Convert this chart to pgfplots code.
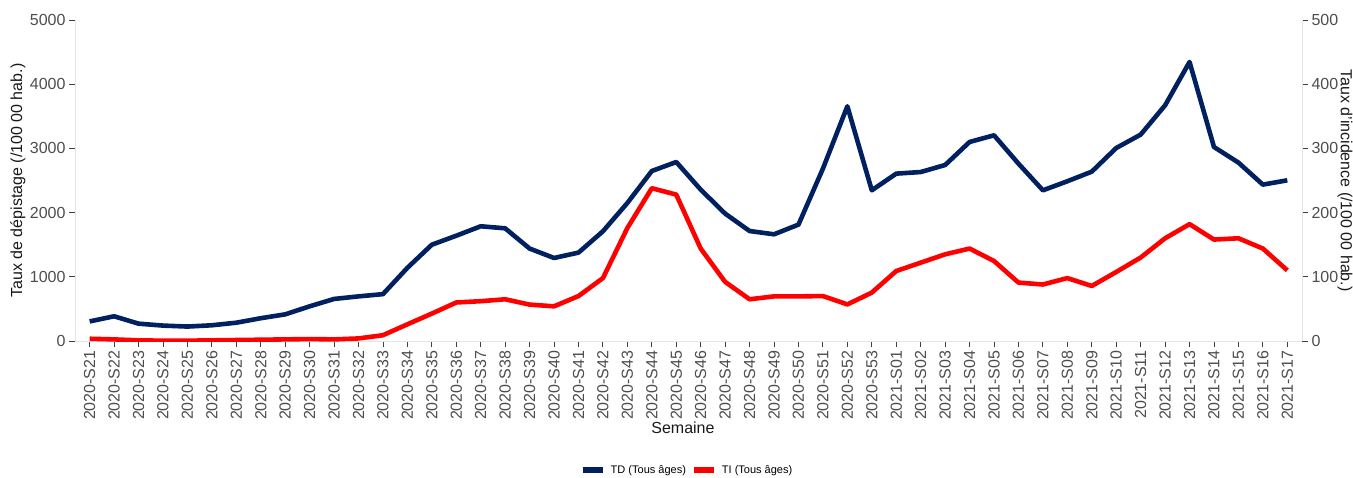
\documentclass[border=0pt]{standalone}
\usepackage{fontspec}
\setmainfont{Liberation Sans}
\usepackage{pgfplots}
\usepackage{pgfplotstable}
\pgfplotsset{compat=1.18}
\definecolor{tdblue}{HTML}{002060}
\definecolor{tired}{HTML}{FF0000}
\definecolor{ticktext}{HTML}{4D4D4D}
\pgfplotstableread{
x td ti
0 305 3.5
1 385 2.5
2 270 1
3 240 0.5
4 225 0.5
5 245 1
6 285 1.5
7 355 2
8 415 2.5
9 540 3
10 655 2.5
11 695 4
12 730 9
13 1140 26
14 1500 42.7
15 1640 60
16 1787 62
17 1755 65
18 1440 56.7
19 1293 54
20 1377 70
21 1709 98
22 2150 176
23 2648 238
24 2788 228
25 2358 144
26 1984 92
27 1713 65
28 1662 69.5
29 1813 69.5
30 2685 70
31 3656 57
32 2347 75.4
33 2607 109
34 2632 122
35 2741 135
36 3100 144
37 3204 124.6
38 2763 91
39 2347 88
40 2488 98
41 2638 85.7
42 3006 107.5
43 3215 130
44 3671 160
45 4346 182
46 3022 158
47 2779 160
48 2436 144
49 2503 110
}\data
\pgfplotsset{
  common/.style={
    at={(75pt,136pt)}, anchor=south west,
    scale only axis, width=1227pt, height=321pt,
    xmin=-0.6, xmax=49.6,
    axis line style={black!10, line width=0.8pt},
    tick style={black!75, line width=0.9pt},
    major tick length=6pt,
    tick align=outside,
    tick label style={font=\fontsize{16}{19}\selectfont, text=ticktext},
    /pgf/number format/assume math mode=true,
    /pgf/number format/1000 sep={},
  }
}
\begin{document}
\begin{tikzpicture}
\useasboundingbox (0,0) rectangle (1353pt,477pt);
\begin{axis}[common,
  ymin=0, ymax=5000, ytick={0,1000,...,5000},
  axis x line*=bottom, axis y line*=left,
  xtick={0,...,49},
  xticklabels={2020-S21,2020-S22,2020-S23,2020-S24,2020-S25,2020-S26,2020-S27,2020-S28,2020-S29,2020-S30,2020-S31,2020-S32,2020-S33,2020-S34,2020-S35,2020-S36,2020-S37,2020-S38,2020-S39,2020-S40,2020-S41,2020-S42,2020-S43,2020-S44,2020-S45,2020-S46,2020-S47,2020-S48,2020-S49,2020-S50,2020-S51,2020-S52,2020-S53,2021-S01,2021-S02,2021-S03,2021-S04,2021-S05,2021-S06,2021-S07,2021-S08,2021-S09,2021-S10,2021-S11,2021-S12,2021-S13,2021-S14,2021-S15,2021-S16,2021-S17},
  xticklabel style={rotate=90, anchor=east},
  xlabel={Semaine},
  every axis x label/.style={at={(axis description cs:0.4955,-0.271)}, anchor=center, font=\fontsize{16}{19}\selectfont, text=black!90},
  ylabel={Taux de dépistage (/100 00 hab.)},
  every axis y label/.style={at={(axis description cs:-0.0465,0.5)}, anchor=center, rotate=90, font=\fontsize{16}{19}\selectfont, text=black!90},
]
\addplot[tdblue, line width=4.6pt, line join=round] table[x=x, y=td] {\data};
\end{axis}
\begin{axis}[common,
  ymin=0, ymax=500, ytick={0,100,...,500},
  axis y line*=right, axis x line=none,
  ylabel={Taux d'incidence (/100 00 hab.)},
  every axis y label/.style={at={(axis description cs:1.035,0.5)}, anchor=center, rotate=-90, font=\fontsize{16}{19}\selectfont, text=black!90},
  legend columns=2,
  legend style={at={(axis description cs:0.5,-0.402)}, anchor=center, draw=none, fill=none,
    font=\fontsize{11}{13}\selectfont, column sep=6pt},
  legend image code/.code={\fill[#1, draw=none] (0pt,-3pt) rectangle (20pt,3pt);},
]
\addlegendimage{tdblue}
\addlegendentry{TD (Tous âges)}
\addplot[tired, line width=4.6pt, line join=round] table[x=x, y=ti] {\data};
\addlegendentry{TI (Tous âges)}
\end{axis}
\end{tikzpicture}
\end{document}
